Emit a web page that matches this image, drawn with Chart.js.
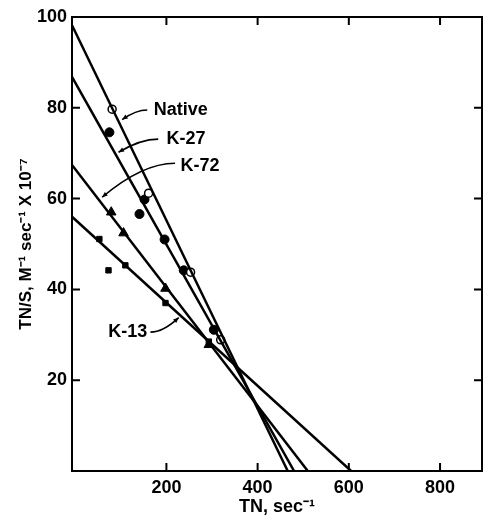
<!DOCTYPE html>
<html>
<head>
<meta charset="utf-8">
<script src="https://cdn.jsdelivr.net/npm/chart.js@4.4.0/dist/chart.umd.min.js"></script>
<style>
  body { margin: 0; background: #fff; }
  #wrap { width: 483px; height: 518px; }
</style>
</head>
<body>
<div id="wrap"><canvas id="myChart"></canvas></div>
<script>
// measured points, TN (sec^-1) against TN/S
var native_x = [81, 161, 253, 319];
var native_y = [79.7, 61.2, 43.8, 28.9];
var k27_x = [75, 141, 152, 196, 238, 304];
var k27_y = [74.6, 56.6, 59.8, 51.0, 44.2, 31.1];
var k72_x = [79, 106, 198, 293];
var k72_y = [57.0, 52.4, 40.2, 27.8];
var k13_x = [53, 73, 110, 198, 293];
var k13_y = [51.1, 44.2, 45.3, 37.0, 28.5];

// fitted lines: value where each meets the left axis, and its x-intercept
var fit_names = ["Native", "K-27", "K-72", "K-13"];
var fit_y0 = [98.2, 86.8, 67.4, 56.0];
var fit_x0 = [466, 480, 510, 605];

var x_ticks = [200, 400, 600, 800];
var y_ticks = [20, 40, 60, 80, 100];
var x_min = -7, x_max = 892;

// line labels with leader arrows (data units)
var notes = [
  { text: "Native", x: 172, y: 79.5, fx: 158, fy: 79.5, tx: 103, ty: 77.4, side: "left" },
  { text: "K-27",   x: 200, y: 73.1, fx: 182, fy: 73.1, tx: 95,  ty: 70.2, side: "left" },
  { text: "K-72",   x: 231, y: 67.2, fx: 219, fy: 67.8, tx: 59,  ty: 60.3, side: "left" },
  { text: "K-13",   x: 158, y: 30.6, fx: 165, fy: 30.6, tx: 227, ty: 33.8, side: "right" }
];

function pts(xs, ys) {
  return xs.map(function(v, i){ return { x: v, y: ys[i] }; });
}

var FONT = "'Liberation Sans', Arial, Helvetica, sans-serif";

var lineSets = fit_names.map(function(n, i){
  return {
    label: n + " fit",
    data: [{ x: x_min, y: fit_y0[i] }, { x: fit_x0[i], y: 0 }],
    showLine: true,
    borderColor: "#000",
    borderWidth: 2.5,
    pointRadius: 0,
    fill: false
  };
});

var frameTicks = {
  id: "frameTicks",
  afterDraw: function(chart){
    var c = chart.ctx, a = chart.chartArea;
    var xs = chart.scales.x, ys = chart.scales.y;
    c.save();
    c.strokeStyle = "#000";
    c.lineWidth = 2;
    c.strokeRect(a.left, a.top, a.right - a.left, a.bottom - a.top);
    c.beginPath();
    x_ticks.forEach(function(v){
      var p = xs.getPixelForValue(v);
      c.moveTo(p, a.bottom); c.lineTo(p, a.bottom - 8);
      c.moveTo(p, a.top); c.lineTo(p, a.top + 8);
    });
    y_ticks.forEach(function(v){
      var p = ys.getPixelForValue(v);
      c.moveTo(a.left, p); c.lineTo(a.left + 8, p);
      c.moveTo(a.right, p); c.lineTo(a.right - 8, p);
    });
    c.stroke();

    // labels and leaders
    c.font = "bold 18px " + FONT;
    c.fillStyle = "#000";
    c.textBaseline = "middle";
    c.lineWidth = 1.6;
    notes.forEach(function(n){
      var px = xs.getPixelForValue(n.x), py = ys.getPixelForValue(n.y);
      c.textAlign = n.side;
      c.fillText(n.text, px, py);
      var fx = xs.getPixelForValue(n.fx), fy = ys.getPixelForValue(n.fy);
      var tx = xs.getPixelForValue(n.tx), ty = ys.getPixelForValue(n.ty);
      var cx = fx + (tx - fx) * 0.45, cy = fy;
      c.beginPath();
      c.moveTo(fx, fy);
      c.quadraticCurveTo(cx, cy, tx, ty);
      c.stroke();
      var ang = Math.atan2(ty - cy, tx - cx);
      c.beginPath();
      c.moveTo(tx, ty);
      c.lineTo(tx - 6 * Math.cos(ang - 0.4), ty - 6 * Math.sin(ang - 0.4));
      c.lineTo(tx - 6 * Math.cos(ang + 0.4), ty - 6 * Math.sin(ang + 0.4));
      c.closePath();
      c.fill();
    });
    c.restore();
  }
};

var myChart = new Chart(document.getElementById("myChart"), {
  type: "scatter",
  data: {
    datasets: lineSets.concat([
      { label: "Native", data: pts(native_x, native_y), pointStyle: "circle", pointRadius: 4,
        backgroundColor: "#fff", borderColor: "#000", borderWidth: 1.5 },
      { label: "K-27", data: pts(k27_x, k27_y), pointStyle: "circle", pointRadius: 4.5,
        backgroundColor: "#000", borderColor: "#000", borderWidth: 1 },
      { label: "K-72", data: pts(k72_x, k72_y), pointStyle: "triangle", pointRadius: 5.5,
        backgroundColor: "#000", borderColor: "#000", borderWidth: 1 },
      { label: "K-13", data: pts(k13_x, k13_y), pointStyle: "rect", pointRadius: 3.8,
        backgroundColor: "#000", borderColor: "#000", borderWidth: 1 }
    ])
  },
  options: {
    responsive: true,
    maintainAspectRatio: false,
    animation: false,
    layout: { autoPadding: false, padding: { top: 17, right: 1, left: 0, bottom: 0 } },
    plugins: { legend: { display: false }, tooltip: { enabled: false } },
    scales: {
      x: {
        type: "linear", min: x_min, max: x_max,
        afterFit: function(s){ s.height = 47; s.paddingLeft = 0; s.paddingRight = 0; },
        afterBuildTicks: function(s){ s.ticks = x_ticks.map(function(v){ return { value: v }; }); },
        grid: { display: false, drawTicks: false },
        border: { color: "#000", width: 2 },
        ticks: {
          padding: 6, color: "#000",
          font: { family: FONT, size: 18, weight: "bold" }
        },
        title: { display: true, text: "TN, sec\u207B\u00B9", color: "#000",
          font: { family: FONT, size: 18, weight: "bold" }, padding: { top: 0, bottom: 0 } }
      },
      y: {
        type: "linear", min: 0, max: 100,
        afterFit: function(s){ s.width = 72; s.paddingTop = 0; s.paddingBottom = 0; },
        grid: { display: false, drawTicks: false },
        border: { color: "#000", width: 2 },
        ticks: {
          stepSize: 20, padding: 5, color: "#000",
          font: { family: FONT, size: 18, weight: "bold" },
          callback: function(v){ return v === 0 ? "" : v; }
        },
        title: { display: true, text: "TN/S, M\u207B\u00B9 sec\u207B\u00B9 X 10\u207B\u2077", color: "#000",
          font: { family: FONT, size: 17, weight: "bold" }, padding: { top: 16, bottom: 0 } }
      }
    }
  },
  plugins: [frameTicks]
});
</script>
</body>
</html>
